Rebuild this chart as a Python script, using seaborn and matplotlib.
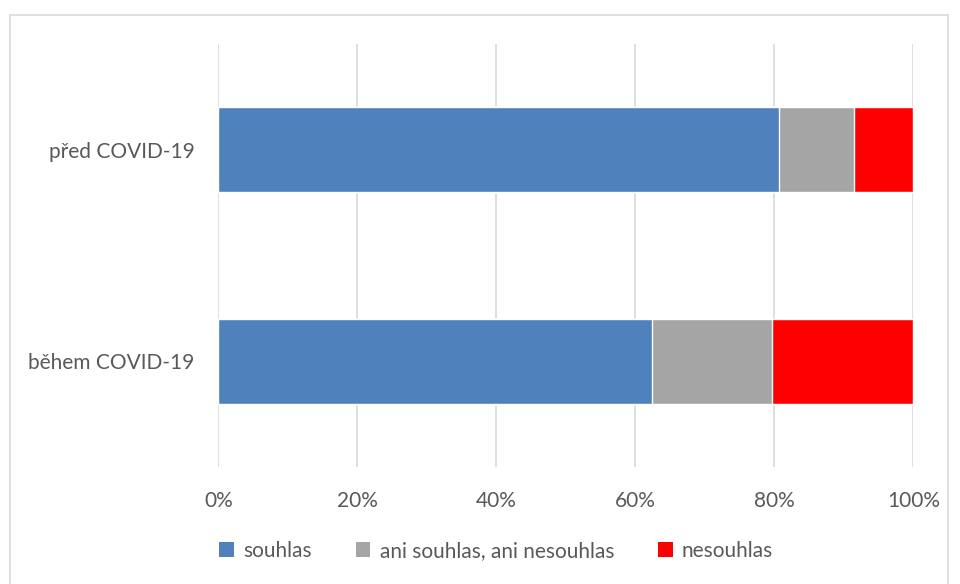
import numpy as np
import pandas as pd
import seaborn as sns
import matplotlib.pyplot as plt
from matplotlib.patches import Patch, Rectangle

categories = ["před COVID-19", "během COVID-19"]
souhlas = [80.7, 62.4]
ani = [10.7, 17.3]
nesouhlas = [8.6, 20.3]
series = ["souhlas", "ani souhlas, ani nesouhlas", "nesouhlas"]
colors = ["#4f81bd", "#a5a5a5", "#ff0000"]
xticks = [0, 20, 40, 60, 80, 100]

sns.set_style("white")
plt.rcParams['font.family'] = ['Lato', 'DejaVu Sans']
text_col = "#595959"

df = pd.DataFrame({"kat": categories, "souhlas": souhlas, "ani": ani, "nesouhlas": nesouhlas})
df["c1"] = df["souhlas"]
df["c2"] = df["souhlas"] + df["ani"]
df["c3"] = df["c2"] + df["nesouhlas"]

fig = plt.figure(figsize=(9.6, 5.84), dpi=100)
ax = fig.add_axes([0.2274, 0.2003, 0.7240, 0.7244])

# stacked bars drawn as cumulative totals, widest first
for col, c in zip(["c3", "c2", "c1"], colors[::-1]):
    sns.barplot(data=df, y="kat", x=col, orient="h", color=c, width=0.4,
                saturation=1, ax=ax, zorder=3)

ax.set_xlim(0, 100)
ax.set_ylim(1.5, -0.5)
ax.set_xticks(xticks)
ax.set_xticklabels([f"{v}%" for v in xticks])
ax.set_xlabel("")
ax.set_ylabel("")
ax.grid(axis="x", color="#d9d9d9", linewidth=1.2, zorder=0)
ax.set_axisbelow(True)
for s in ax.spines.values():
    s.set_visible(False)
ax.tick_params(axis="x", length=0, pad=17, labelsize=15, labelcolor=text_col)
ax.tick_params(axis="y", length=0, pad=17, labelsize=15, labelcolor=text_col)

handles = [Patch(facecolor=c, edgecolor="none") for c in colors]
fig.legend(handles, series, loc="center", bbox_to_anchor=(0.517, 0.0565), ncol=3,
           frameon=False, fontsize=15, labelcolor=text_col, handlelength=0.7,
           handleheight=0.7, handletextpad=0.45, columnspacing=2.1)

fig.patches.append(Rectangle((10 / 960, -0.01), 938 / 960, 1 - 15 / 584 + 0.01,
                             transform=fig.transFigure, fill=False,
                             edgecolor="#d9d9d9", linewidth=1.2))

fig.savefig("out.png", dpi=100)
